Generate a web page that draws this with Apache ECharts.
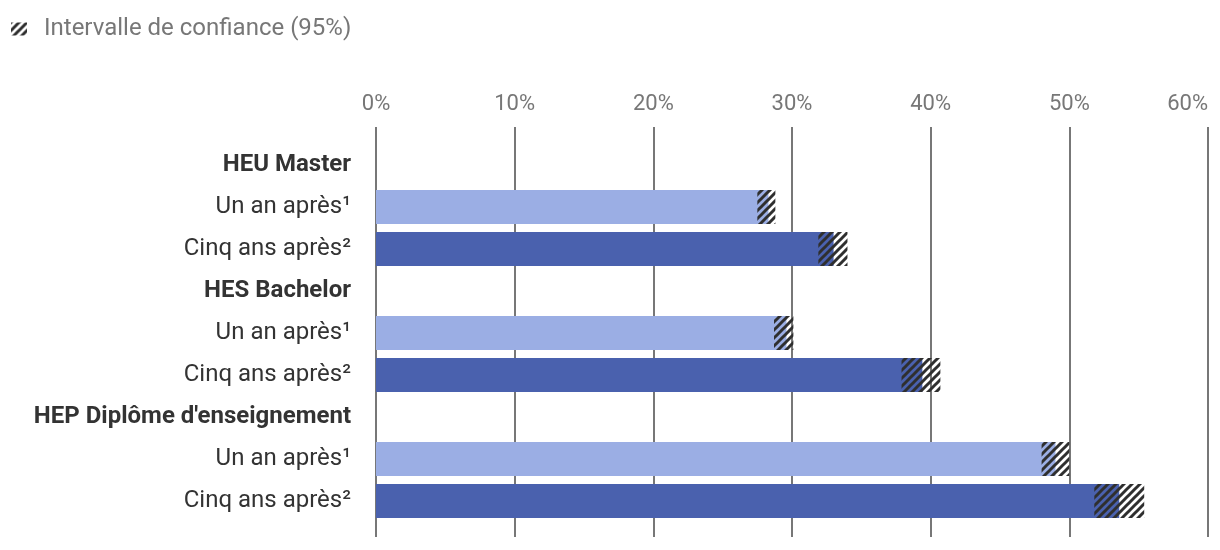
<!DOCTYPE html>
<html>
<head>
<meta charset="utf-8">
<script src="https://cdn.jsdelivr.net/npm/echarts@6/dist/echarts.min.js"></script>
<style>
html,body{margin:0;padding:0;background:#fff;}
#chart{width:1220px;height:550px;}
</style>
</head>
<body>
<div id="chart"></div>
<script>
// ---- data ----
const categories = ["HEU Master", "Un an après¹", "Cinq ans après²", "HES Bachelor", "Un an après¹", "Cinq ans après²", "HEP Diplôme d'enseignement", "Un an après¹", "Cinq ans après²"];
const headers = ["HEU Master", "HES Bachelor", "HEP Diplôme d'enseignement"];
const pointValues = [null, 28.3, 33.0, null, 29.6, 39.4, null, 49.0, 53.6];
const ciLow =       [null, 27.5, 31.9, null, 28.7, 37.9, null, 48.0, 51.8];
const ciHigh =      [null, 28.8, 34.0, null, 30.1, 40.7, null, 50.0, 55.4];
const xTicks = [0, 10, 20, 30, 40, 50, 60];
const legendLabel = "Intervalle de confiance (95%)";

// ---- hatch pattern ----
function makeHatch() {
  const s = 8;
  const c = document.createElement('canvas');
  c.width = s; c.height = s;
  const ctx = c.getContext('2d');
  ctx.strokeStyle = '#2f2f2f';
  ctx.lineWidth = 3;
  ctx.lineCap = 'square';
  [-s, 0, s].forEach(dx => {
    ctx.beginPath();
    ctx.moveTo(dx, s);
    ctx.lineTo(dx + s, 0);
    ctx.stroke();
  });
  return c;
}
const hatch = { image: makeHatch(), repeat: 'repeat' };

const LIGHT = '#9BAEE4', DARK = '#4A61AE';
const chart = echarts.init(document.getElementById('chart'));
const font = 'Roboto';

const option = {
  animation: false,
  textStyle: { fontFamily: font },
  legend: {
    data: [legendLabel],
    left: 6, top: 12,
    itemWidth: 16, itemHeight: 13,
    icon: 'rect',
    textStyle: { color: '#777', fontSize: 24, fontFamily: font, padding: [0, 0, 0, 12] },
    selectedMode: false
  },
  grid: [
    { left: 376, right: 12, top: 127, bottom: 13, outerBoundsMode: 'none', containLabel: false },
    { left: 376, right: 12, top: 144, bottom: 28, outerBoundsMode: 'none', containLabel: false }
  ],
  xAxis: [
    {
      gridIndex: 0, type: 'value', position: 'top',
      min: xTicks[0], max: xTicks[xTicks.length - 1], interval: 10,
      axisLine: { show: false }, axisTick: { show: false },
      axisLabel: {
        formatter: '{value}%', color: '#777', fontSize: 22, margin: 12, fontFamily: font,
        alignMaxLabel: 'right'
      },
      splitLine: { show: true, lineStyle: { color: '#777', width: 2 } }
    },
    {
      gridIndex: 1, type: 'value',
      min: xTicks[0], max: xTicks[xTicks.length - 1], interval: 10,
      show: false
    }
  ],
  yAxis: [
    { gridIndex: 0, type: 'value', show: false },
    {
      gridIndex: 1, type: 'category', inverse: true, data: categories,
      axisLine: { show: false }, axisTick: { show: false },
      axisLabel: {
        margin: 25, fontSize: 24, color: '#333', fontFamily: font,
        formatter: v => headers.includes(v) ? '{b|' + v + '}' : v,
        rich: { b: { fontWeight: 'bold', fontSize: 24, color: '#333', fontFamily: font } }
      }
    }
  ],
  series: [
    {
      name: 'Valeur', type: 'bar', xAxisIndex: 1, yAxisIndex: 1,
      barWidth: 34, barGap: '-100%',
      data: pointValues,
      itemStyle: { color: p => categories[p.dataIndex].startsWith('Un') ? LIGHT : DARK }
    },
    {
      name: 'base', type: 'bar', xAxisIndex: 1, yAxisIndex: 1, stack: 'ci',
      barWidth: 34, barGap: '-100%',
      data: ciLow,
      itemStyle: { color: 'rgba(0,0,0,0)' },
      silent: true
    },
    {
      name: legendLabel, type: 'bar', xAxisIndex: 1, yAxisIndex: 1, stack: 'ci',
      barWidth: 34, barGap: '-100%',
      data: ciHigh.map((h, i) => (h == null ? null : +(h - ciLow[i]).toFixed(2))),
      itemStyle: { color: hatch }
    }
  ]
};
chart.setOption(option);
</script>
</body>
</html>
